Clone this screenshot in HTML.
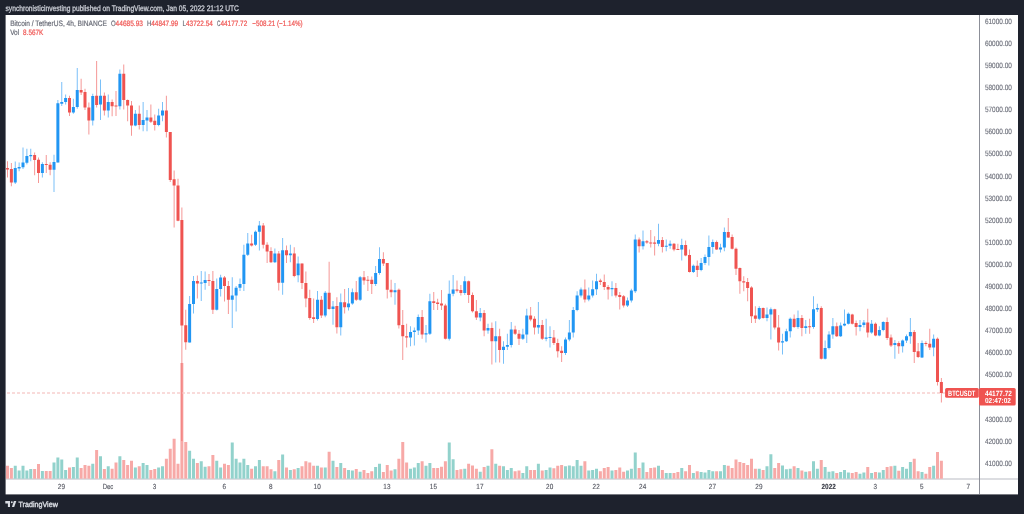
<!DOCTYPE html><html><head><meta charset="utf-8"><style>html,body{margin:0;padding:0;width:1024px;height:514px;overflow:hidden;background:#1e222d;}svg{position:absolute;left:0;top:0;display:block;will-change:transform}text{font-family:"Liberation Sans",sans-serif;text-rendering:geometricPrecision}</style></head><body><svg width="1024" height="514" viewBox="0 0 1024 514"><rect x="0" y="0" width="1024" height="514" fill="#1e222d"/><rect x="5.6" y="15" width="1012.4" height="479.4" fill="#ffffff"/><rect x="6" y="478.5" width="973" height="1" fill="#b9bcc3"/><rect x="979" y="478.5" width="39" height="1" fill="#b9bcc3"/><rect x="6.000" y="465.75" width="3" height="12.95" fill="#f7a9a7"/><rect x="9.875" y="468.00" width="3" height="10.70" fill="#f7a9a7"/><rect x="13.750" y="465.75" width="3" height="12.95" fill="#92d2cc"/><rect x="17.625" y="470.50" width="3" height="8.20" fill="#92d2cc"/><rect x="21.500" y="465.75" width="3" height="12.95" fill="#92d2cc"/><rect x="25.375" y="470.50" width="3" height="8.20" fill="#92d2cc"/><rect x="29.250" y="469.00" width="3" height="9.70" fill="#92d2cc"/><rect x="33.125" y="469.00" width="3" height="9.70" fill="#f7a9a7"/><rect x="37.000" y="464.00" width="3" height="14.70" fill="#f7a9a7"/><rect x="40.875" y="471.00" width="3" height="7.70" fill="#92d2cc"/><rect x="44.750" y="471.00" width="3" height="7.70" fill="#f7a9a7"/><rect x="48.625" y="471.00" width="3" height="7.70" fill="#f7a9a7"/><rect x="52.500" y="462.50" width="3" height="16.20" fill="#92d2cc"/><rect x="56.375" y="457.50" width="3" height="21.20" fill="#92d2cc"/><rect x="60.250" y="459.50" width="3" height="19.20" fill="#92d2cc"/><rect x="64.125" y="470.00" width="3" height="8.70" fill="#92d2cc"/><rect x="68.000" y="467.50" width="3" height="11.20" fill="#f7a9a7"/><rect x="71.875" y="467.00" width="3" height="11.70" fill="#92d2cc"/><rect x="75.750" y="457.50" width="3" height="21.20" fill="#92d2cc"/><rect x="79.625" y="468.00" width="3" height="10.70" fill="#f7a9a7"/><rect x="83.500" y="465.00" width="3" height="13.70" fill="#f7a9a7"/><rect x="87.375" y="465.75" width="3" height="12.95" fill="#f7a9a7"/><rect x="91.250" y="463.75" width="3" height="14.95" fill="#92d2cc"/><rect x="95.125" y="450.00" width="3" height="28.70" fill="#f7a9a7"/><rect x="99.000" y="456.25" width="3" height="22.45" fill="#92d2cc"/><rect x="102.875" y="469.00" width="3" height="9.70" fill="#f7a9a7"/><rect x="106.750" y="466.25" width="3" height="12.45" fill="#92d2cc"/><rect x="110.625" y="468.75" width="3" height="9.95" fill="#f7a9a7"/><rect x="114.500" y="462.50" width="3" height="16.20" fill="#f7a9a7"/><rect x="118.375" y="456.25" width="3" height="22.45" fill="#92d2cc"/><rect x="122.250" y="460.00" width="3" height="18.70" fill="#f7a9a7"/><rect x="126.125" y="465.00" width="3" height="13.70" fill="#f7a9a7"/><rect x="130.000" y="460.75" width="3" height="17.95" fill="#f7a9a7"/><rect x="133.875" y="467.50" width="3" height="11.20" fill="#92d2cc"/><rect x="137.750" y="466.25" width="3" height="12.45" fill="#f7a9a7"/><rect x="141.625" y="463.00" width="3" height="15.70" fill="#92d2cc"/><rect x="145.500" y="465.00" width="3" height="13.70" fill="#92d2cc"/><rect x="149.375" y="470.00" width="3" height="8.70" fill="#f7a9a7"/><rect x="153.250" y="469.00" width="3" height="9.70" fill="#f7a9a7"/><rect x="157.125" y="467.50" width="3" height="11.20" fill="#92d2cc"/><rect x="161.000" y="466.25" width="3" height="12.45" fill="#92d2cc"/><rect x="164.875" y="458.75" width="3" height="19.95" fill="#f7a9a7"/><rect x="168.750" y="448.75" width="3" height="29.95" fill="#f7a9a7"/><rect x="172.625" y="438.75" width="3" height="39.95" fill="#f7a9a7"/><rect x="176.500" y="463.75" width="3" height="14.95" fill="#f7a9a7"/><rect x="180.375" y="363.00" width="3" height="115.70" fill="#f7a9a7"/><rect x="184.250" y="442.00" width="3" height="36.70" fill="#f7a9a7"/><rect x="188.125" y="450.75" width="3" height="27.95" fill="#92d2cc"/><rect x="192.000" y="458.75" width="3" height="19.95" fill="#92d2cc"/><rect x="195.875" y="463.00" width="3" height="15.70" fill="#f7a9a7"/><rect x="199.750" y="461.25" width="3" height="17.45" fill="#92d2cc"/><rect x="203.625" y="466.75" width="3" height="11.95" fill="#92d2cc"/><rect x="207.500" y="466.25" width="3" height="12.45" fill="#f7a9a7"/><rect x="211.375" y="455.00" width="3" height="23.70" fill="#f7a9a7"/><rect x="215.250" y="460.75" width="3" height="17.95" fill="#92d2cc"/><rect x="219.125" y="467.50" width="3" height="11.20" fill="#92d2cc"/><rect x="223.000" y="463.75" width="3" height="14.95" fill="#f7a9a7"/><rect x="226.875" y="465.00" width="3" height="13.70" fill="#f7a9a7"/><rect x="230.750" y="442.50" width="3" height="36.20" fill="#92d2cc"/><rect x="234.625" y="458.75" width="3" height="19.95" fill="#92d2cc"/><rect x="238.500" y="462.50" width="3" height="16.20" fill="#92d2cc"/><rect x="242.375" y="458.75" width="3" height="19.95" fill="#92d2cc"/><rect x="246.250" y="465.00" width="3" height="13.70" fill="#92d2cc"/><rect x="250.125" y="468.75" width="3" height="9.95" fill="#f7a9a7"/><rect x="254.000" y="466.25" width="3" height="12.45" fill="#92d2cc"/><rect x="257.875" y="460.00" width="3" height="18.70" fill="#92d2cc"/><rect x="261.750" y="466.25" width="3" height="12.45" fill="#f7a9a7"/><rect x="265.625" y="466.25" width="3" height="12.45" fill="#f7a9a7"/><rect x="269.500" y="469.25" width="3" height="9.45" fill="#f7a9a7"/><rect x="273.375" y="471.25" width="3" height="7.45" fill="#92d2cc"/><rect x="277.250" y="460.00" width="3" height="18.70" fill="#f7a9a7"/><rect x="281.125" y="454.50" width="3" height="24.20" fill="#92d2cc"/><rect x="285.000" y="467.50" width="3" height="11.20" fill="#f7a9a7"/><rect x="288.875" y="470.00" width="3" height="8.70" fill="#92d2cc"/><rect x="292.750" y="469.25" width="3" height="9.45" fill="#f7a9a7"/><rect x="296.625" y="468.00" width="3" height="10.70" fill="#92d2cc"/><rect x="300.500" y="466.25" width="3" height="12.45" fill="#f7a9a7"/><rect x="304.375" y="461.25" width="3" height="17.45" fill="#f7a9a7"/><rect x="308.250" y="462.50" width="3" height="16.20" fill="#f7a9a7"/><rect x="312.125" y="465.75" width="3" height="12.95" fill="#f7a9a7"/><rect x="316.000" y="465.75" width="3" height="12.95" fill="#92d2cc"/><rect x="319.875" y="467.50" width="3" height="11.20" fill="#f7a9a7"/><rect x="323.750" y="467.50" width="3" height="11.20" fill="#92d2cc"/><rect x="327.625" y="451.75" width="3" height="26.95" fill="#f7a9a7"/><rect x="331.500" y="460.75" width="3" height="17.95" fill="#92d2cc"/><rect x="335.375" y="467.00" width="3" height="11.70" fill="#f7a9a7"/><rect x="339.250" y="463.00" width="3" height="15.70" fill="#92d2cc"/><rect x="343.125" y="468.00" width="3" height="10.70" fill="#f7a9a7"/><rect x="347.000" y="470.00" width="3" height="8.70" fill="#92d2cc"/><rect x="350.875" y="470.50" width="3" height="8.20" fill="#92d2cc"/><rect x="354.750" y="469.00" width="3" height="9.70" fill="#f7a9a7"/><rect x="358.625" y="471.75" width="3" height="6.95" fill="#92d2cc"/><rect x="362.500" y="470.00" width="3" height="8.70" fill="#f7a9a7"/><rect x="366.375" y="473.00" width="3" height="5.70" fill="#f7a9a7"/><rect x="370.250" y="471.25" width="3" height="7.45" fill="#f7a9a7"/><rect x="374.125" y="467.00" width="3" height="11.70" fill="#92d2cc"/><rect x="378.000" y="463.75" width="3" height="14.95" fill="#92d2cc"/><rect x="381.875" y="472.00" width="3" height="6.70" fill="#f7a9a7"/><rect x="385.750" y="465.00" width="3" height="13.70" fill="#f7a9a7"/><rect x="389.625" y="470.50" width="3" height="8.20" fill="#f7a9a7"/><rect x="393.500" y="469.25" width="3" height="9.45" fill="#92d2cc"/><rect x="397.375" y="458.75" width="3" height="19.95" fill="#f7a9a7"/><rect x="401.250" y="442.00" width="3" height="36.70" fill="#f7a9a7"/><rect x="405.125" y="462.50" width="3" height="16.20" fill="#f7a9a7"/><rect x="409.000" y="468.75" width="3" height="9.95" fill="#92d2cc"/><rect x="412.875" y="467.50" width="3" height="11.20" fill="#92d2cc"/><rect x="416.750" y="463.00" width="3" height="15.70" fill="#92d2cc"/><rect x="420.625" y="461.25" width="3" height="17.45" fill="#f7a9a7"/><rect x="424.500" y="465.75" width="3" height="12.95" fill="#92d2cc"/><rect x="428.375" y="463.00" width="3" height="15.70" fill="#92d2cc"/><rect x="432.250" y="468.00" width="3" height="10.70" fill="#f7a9a7"/><rect x="436.125" y="468.00" width="3" height="10.70" fill="#f7a9a7"/><rect x="440.000" y="466.75" width="3" height="11.95" fill="#f7a9a7"/><rect x="443.875" y="461.25" width="3" height="17.45" fill="#f7a9a7"/><rect x="447.750" y="442.50" width="3" height="36.20" fill="#92d2cc"/><rect x="451.625" y="459.25" width="3" height="19.45" fill="#92d2cc"/><rect x="455.500" y="470.00" width="3" height="8.70" fill="#f7a9a7"/><rect x="459.375" y="469.25" width="3" height="9.45" fill="#f7a9a7"/><rect x="463.250" y="468.75" width="3" height="9.95" fill="#92d2cc"/><rect x="467.125" y="463.75" width="3" height="14.95" fill="#f7a9a7"/><rect x="471.000" y="465.50" width="3" height="13.20" fill="#f7a9a7"/><rect x="474.875" y="468.75" width="3" height="9.95" fill="#f7a9a7"/><rect x="478.750" y="471.75" width="3" height="6.95" fill="#92d2cc"/><rect x="482.625" y="467.00" width="3" height="11.70" fill="#f7a9a7"/><rect x="486.500" y="465.75" width="3" height="12.95" fill="#92d2cc"/><rect x="490.375" y="449.25" width="3" height="29.45" fill="#f7a9a7"/><rect x="494.250" y="463.75" width="3" height="14.95" fill="#92d2cc"/><rect x="498.125" y="465.75" width="3" height="12.95" fill="#f7a9a7"/><rect x="502.000" y="466.25" width="3" height="12.45" fill="#92d2cc"/><rect x="505.875" y="470.00" width="3" height="8.70" fill="#92d2cc"/><rect x="509.750" y="468.00" width="3" height="10.70" fill="#92d2cc"/><rect x="513.625" y="471.25" width="3" height="7.45" fill="#f7a9a7"/><rect x="517.500" y="470.50" width="3" height="8.20" fill="#f7a9a7"/><rect x="521.375" y="473.00" width="3" height="5.70" fill="#92d2cc"/><rect x="525.250" y="466.25" width="3" height="12.45" fill="#92d2cc"/><rect x="529.125" y="470.00" width="3" height="8.70" fill="#f7a9a7"/><rect x="533.000" y="470.00" width="3" height="8.70" fill="#f7a9a7"/><rect x="536.875" y="463.75" width="3" height="14.95" fill="#92d2cc"/><rect x="540.750" y="470.50" width="3" height="8.20" fill="#f7a9a7"/><rect x="544.625" y="470.00" width="3" height="8.70" fill="#92d2cc"/><rect x="548.500" y="467.50" width="3" height="11.20" fill="#92d2cc"/><rect x="552.375" y="468.25" width="3" height="10.45" fill="#f7a9a7"/><rect x="556.250" y="465.75" width="3" height="12.95" fill="#f7a9a7"/><rect x="560.125" y="465.00" width="3" height="13.70" fill="#f7a9a7"/><rect x="564.000" y="466.25" width="3" height="12.45" fill="#92d2cc"/><rect x="567.875" y="465.50" width="3" height="13.20" fill="#92d2cc"/><rect x="571.750" y="466.25" width="3" height="12.45" fill="#92d2cc"/><rect x="575.625" y="460.00" width="3" height="18.70" fill="#92d2cc"/><rect x="579.500" y="465.75" width="3" height="12.95" fill="#92d2cc"/><rect x="583.375" y="461.25" width="3" height="17.45" fill="#f7a9a7"/><rect x="587.250" y="470.50" width="3" height="8.20" fill="#92d2cc"/><rect x="591.125" y="470.00" width="3" height="8.70" fill="#92d2cc"/><rect x="595.000" y="468.75" width="3" height="9.95" fill="#92d2cc"/><rect x="598.875" y="471.25" width="3" height="7.45" fill="#f7a9a7"/><rect x="602.750" y="468.00" width="3" height="10.70" fill="#f7a9a7"/><rect x="606.625" y="467.00" width="3" height="11.70" fill="#f7a9a7"/><rect x="610.500" y="470.50" width="3" height="8.20" fill="#92d2cc"/><rect x="614.375" y="470.00" width="3" height="8.70" fill="#f7a9a7"/><rect x="618.250" y="467.50" width="3" height="11.20" fill="#f7a9a7"/><rect x="622.125" y="471.75" width="3" height="6.95" fill="#f7a9a7"/><rect x="626.000" y="470.50" width="3" height="8.20" fill="#92d2cc"/><rect x="629.875" y="468.75" width="3" height="9.95" fill="#92d2cc"/><rect x="633.750" y="452.50" width="3" height="26.20" fill="#92d2cc"/><rect x="637.625" y="468.00" width="3" height="10.70" fill="#f7a9a7"/><rect x="641.500" y="462.50" width="3" height="16.20" fill="#92d2cc"/><rect x="645.375" y="472.00" width="3" height="6.70" fill="#f7a9a7"/><rect x="649.250" y="468.00" width="3" height="10.70" fill="#f7a9a7"/><rect x="653.125" y="467.50" width="3" height="11.20" fill="#f7a9a7"/><rect x="657.000" y="465.75" width="3" height="12.95" fill="#92d2cc"/><rect x="660.875" y="470.00" width="3" height="8.70" fill="#f7a9a7"/><rect x="664.750" y="473.00" width="3" height="5.70" fill="#92d2cc"/><rect x="668.625" y="473.00" width="3" height="5.70" fill="#92d2cc"/><rect x="672.500" y="473.00" width="3" height="5.70" fill="#f7a9a7"/><rect x="676.375" y="472.00" width="3" height="6.70" fill="#f7a9a7"/><rect x="680.250" y="468.00" width="3" height="10.70" fill="#92d2cc"/><rect x="684.125" y="471.25" width="3" height="7.45" fill="#f7a9a7"/><rect x="688.000" y="465.00" width="3" height="13.70" fill="#f7a9a7"/><rect x="691.875" y="473.00" width="3" height="5.70" fill="#92d2cc"/><rect x="695.750" y="471.25" width="3" height="7.45" fill="#f7a9a7"/><rect x="699.625" y="472.00" width="3" height="6.70" fill="#92d2cc"/><rect x="703.500" y="472.50" width="3" height="6.20" fill="#92d2cc"/><rect x="707.375" y="470.00" width="3" height="8.70" fill="#92d2cc"/><rect x="711.250" y="471.25" width="3" height="7.45" fill="#92d2cc"/><rect x="715.125" y="471.25" width="3" height="7.45" fill="#f7a9a7"/><rect x="719.000" y="471.25" width="3" height="7.45" fill="#92d2cc"/><rect x="722.875" y="465.00" width="3" height="13.70" fill="#92d2cc"/><rect x="726.750" y="465.75" width="3" height="12.95" fill="#f7a9a7"/><rect x="730.625" y="468.00" width="3" height="10.70" fill="#f7a9a7"/><rect x="734.500" y="459.50" width="3" height="19.20" fill="#f7a9a7"/><rect x="738.375" y="462.00" width="3" height="16.70" fill="#f7a9a7"/><rect x="742.250" y="463.00" width="3" height="15.70" fill="#f7a9a7"/><rect x="746.125" y="465.00" width="3" height="13.70" fill="#f7a9a7"/><rect x="750.000" y="458.75" width="3" height="19.95" fill="#f7a9a7"/><rect x="753.875" y="468.75" width="3" height="9.95" fill="#f7a9a7"/><rect x="757.750" y="468.75" width="3" height="9.95" fill="#92d2cc"/><rect x="761.625" y="470.00" width="3" height="8.70" fill="#f7a9a7"/><rect x="765.500" y="466.25" width="3" height="12.45" fill="#92d2cc"/><rect x="769.375" y="454.25" width="3" height="24.45" fill="#92d2cc"/><rect x="773.250" y="468.00" width="3" height="10.70" fill="#f7a9a7"/><rect x="777.125" y="463.00" width="3" height="15.70" fill="#f7a9a7"/><rect x="781.000" y="465.50" width="3" height="13.20" fill="#92d2cc"/><rect x="784.875" y="469.25" width="3" height="9.45" fill="#92d2cc"/><rect x="788.750" y="468.75" width="3" height="9.95" fill="#92d2cc"/><rect x="792.625" y="466.25" width="3" height="12.45" fill="#f7a9a7"/><rect x="796.500" y="468.00" width="3" height="10.70" fill="#92d2cc"/><rect x="800.375" y="470.50" width="3" height="8.20" fill="#f7a9a7"/><rect x="804.250" y="471.75" width="3" height="6.95" fill="#92d2cc"/><rect x="808.125" y="471.25" width="3" height="7.45" fill="#f7a9a7"/><rect x="812.000" y="461.25" width="3" height="17.45" fill="#92d2cc"/><rect x="815.875" y="468.75" width="3" height="9.95" fill="#92d2cc"/><rect x="819.750" y="460.00" width="3" height="18.70" fill="#f7a9a7"/><rect x="823.625" y="467.00" width="3" height="11.70" fill="#92d2cc"/><rect x="827.500" y="471.75" width="3" height="6.95" fill="#92d2cc"/><rect x="831.375" y="471.25" width="3" height="7.45" fill="#92d2cc"/><rect x="835.250" y="473.00" width="3" height="5.70" fill="#f7a9a7"/><rect x="839.125" y="472.00" width="3" height="6.70" fill="#92d2cc"/><rect x="843.000" y="470.00" width="3" height="8.70" fill="#92d2cc"/><rect x="846.875" y="472.50" width="3" height="6.20" fill="#92d2cc"/><rect x="850.750" y="473.00" width="3" height="5.70" fill="#f7a9a7"/><rect x="854.625" y="472.00" width="3" height="6.70" fill="#f7a9a7"/><rect x="858.500" y="473.75" width="3" height="4.95" fill="#92d2cc"/><rect x="862.375" y="472.50" width="3" height="6.20" fill="#92d2cc"/><rect x="866.250" y="467.00" width="3" height="11.70" fill="#f7a9a7"/><rect x="870.125" y="473.00" width="3" height="5.70" fill="#92d2cc"/><rect x="874.000" y="472.00" width="3" height="6.70" fill="#f7a9a7"/><rect x="877.875" y="472.50" width="3" height="6.20" fill="#92d2cc"/><rect x="881.750" y="470.00" width="3" height="8.70" fill="#92d2cc"/><rect x="885.625" y="467.00" width="3" height="11.70" fill="#f7a9a7"/><rect x="889.500" y="466.25" width="3" height="12.45" fill="#f7a9a7"/><rect x="893.375" y="465.75" width="3" height="12.95" fill="#92d2cc"/><rect x="897.250" y="470.75" width="3" height="7.95" fill="#f7a9a7"/><rect x="901.125" y="467.00" width="3" height="11.70" fill="#92d2cc"/><rect x="905.000" y="468.75" width="3" height="9.95" fill="#92d2cc"/><rect x="908.875" y="462.00" width="3" height="16.70" fill="#92d2cc"/><rect x="912.750" y="458.75" width="3" height="19.95" fill="#f7a9a7"/><rect x="916.625" y="471.25" width="3" height="7.45" fill="#f7a9a7"/><rect x="920.500" y="472.00" width="3" height="6.70" fill="#92d2cc"/><rect x="924.375" y="473.75" width="3" height="4.95" fill="#f7a9a7"/><rect x="928.250" y="467.00" width="3" height="11.70" fill="#f7a9a7"/><rect x="932.125" y="465.75" width="3" height="12.95" fill="#92d2cc"/><rect x="936.000" y="452.00" width="3" height="26.70" fill="#f7a9a7"/><rect x="939.875" y="460.75" width="3" height="17.95" fill="#f7a9a7"/><line x1="7" y1="393" x2="945" y2="393" stroke="#f8cfce" stroke-width="1.3" stroke-dasharray="3 2"/><rect x="7.000" y="161.25" width="1" height="16.25" fill="#ef5350" fill-opacity="0.6"/><rect x="6.000" y="168.10" width="3" height="1.40" fill="#ef5350"/><rect x="10.875" y="163.00" width="1" height="23.25" fill="#ef5350" fill-opacity="0.6"/><rect x="9.875" y="169.00" width="3" height="13.50" fill="#ef5350"/><rect x="14.750" y="161.50" width="1" height="22.50" fill="#2196f3" fill-opacity="0.6"/><rect x="13.750" y="168.00" width="3" height="14.50" fill="#2196f3"/><rect x="18.625" y="162.50" width="1" height="8.75" fill="#2196f3" fill-opacity="0.6"/><rect x="17.625" y="167.00" width="3" height="1.50" fill="#2196f3"/><rect x="22.500" y="147.50" width="1" height="21.50" fill="#2196f3" fill-opacity="0.6"/><rect x="21.500" y="162.50" width="3" height="4.75" fill="#2196f3"/><rect x="26.375" y="148.75" width="1" height="15.65" fill="#2196f3" fill-opacity="0.6"/><rect x="25.375" y="156.00" width="3" height="6.75" fill="#2196f3"/><rect x="30.250" y="148.75" width="1" height="12.50" fill="#2196f3" fill-opacity="0.6"/><rect x="29.250" y="155.00" width="3" height="1.25" fill="#2196f3"/><rect x="34.125" y="152.50" width="1" height="22.75" fill="#ef5350" fill-opacity="0.6"/><rect x="33.125" y="155.00" width="3" height="5.00" fill="#ef5350"/><rect x="38.000" y="157.50" width="1" height="25.50" fill="#ef5350" fill-opacity="0.6"/><rect x="37.000" y="159.75" width="3" height="13.25" fill="#ef5350"/><rect x="41.875" y="162.25" width="1" height="15.25" fill="#2196f3" fill-opacity="0.6"/><rect x="40.875" y="164.00" width="3" height="9.00" fill="#2196f3"/><rect x="45.750" y="155.00" width="1" height="18.00" fill="#ef5350" fill-opacity="0.6"/><rect x="44.750" y="164.00" width="3" height="1.00" fill="#ef5350"/><rect x="49.625" y="162.25" width="1" height="13.00" fill="#ef5350" fill-opacity="0.6"/><rect x="48.625" y="164.75" width="3" height="5.00" fill="#ef5350"/><rect x="53.500" y="154.75" width="1" height="37.25" fill="#2196f3" fill-opacity="0.6"/><rect x="52.500" y="162.00" width="3" height="7.75" fill="#2196f3"/><rect x="57.375" y="100.00" width="1" height="62.50" fill="#2196f3" fill-opacity="0.6"/><rect x="56.375" y="103.25" width="3" height="59.25" fill="#2196f3"/><rect x="61.250" y="82.00" width="1" height="24.00" fill="#2196f3" fill-opacity="0.6"/><rect x="60.250" y="102.00" width="3" height="1.75" fill="#2196f3"/><rect x="65.125" y="94.50" width="1" height="10.00" fill="#2196f3" fill-opacity="0.6"/><rect x="64.125" y="98.00" width="3" height="4.00" fill="#2196f3"/><rect x="69.000" y="95.75" width="1" height="20.25" fill="#ef5350" fill-opacity="0.6"/><rect x="68.000" y="98.00" width="3" height="14.50" fill="#ef5350"/><rect x="72.875" y="98.75" width="1" height="15.00" fill="#2196f3" fill-opacity="0.6"/><rect x="71.875" y="107.00" width="3" height="5.50" fill="#2196f3"/><rect x="76.750" y="68.00" width="1" height="40.75" fill="#2196f3" fill-opacity="0.6"/><rect x="75.750" y="90.00" width="3" height="17.00" fill="#2196f3"/><rect x="80.625" y="78.75" width="1" height="16.25" fill="#ef5350" fill-opacity="0.6"/><rect x="79.625" y="90.00" width="3" height="2.50" fill="#ef5350"/><rect x="84.500" y="88.75" width="1" height="21.25" fill="#ef5350" fill-opacity="0.6"/><rect x="83.500" y="92.00" width="3" height="15.50" fill="#ef5350"/><rect x="88.375" y="102.50" width="1" height="32.00" fill="#ef5350" fill-opacity="0.6"/><rect x="87.375" y="107.50" width="3" height="13.00" fill="#ef5350"/><rect x="92.250" y="93.75" width="1" height="31.75" fill="#2196f3" fill-opacity="0.6"/><rect x="91.250" y="96.00" width="3" height="24.50" fill="#2196f3"/><rect x="96.125" y="61.00" width="1" height="46.50" fill="#ef5350" fill-opacity="0.6"/><rect x="95.125" y="95.75" width="3" height="9.25" fill="#ef5350"/><rect x="100.000" y="79.50" width="1" height="40.50" fill="#2196f3" fill-opacity="0.6"/><rect x="99.000" y="95.75" width="3" height="8.75" fill="#2196f3"/><rect x="103.875" y="92.50" width="1" height="23.00" fill="#ef5350" fill-opacity="0.6"/><rect x="102.875" y="95.75" width="3" height="14.75" fill="#ef5350"/><rect x="107.750" y="94.50" width="1" height="23.00" fill="#2196f3" fill-opacity="0.6"/><rect x="106.750" y="102.00" width="3" height="8.50" fill="#2196f3"/><rect x="111.625" y="99.50" width="1" height="16.75" fill="#ef5350" fill-opacity="0.6"/><rect x="110.625" y="102.00" width="3" height="4.25" fill="#ef5350"/><rect x="115.500" y="91.00" width="1" height="25.00" fill="#ef5350" fill-opacity="0.6"/><rect x="114.500" y="105.50" width="3" height="1.00" fill="#ef5350"/><rect x="119.375" y="69.50" width="1" height="40.00" fill="#2196f3" fill-opacity="0.6"/><rect x="118.375" y="73.75" width="3" height="32.50" fill="#2196f3"/><rect x="123.250" y="64.50" width="1" height="45.00" fill="#ef5350" fill-opacity="0.6"/><rect x="122.250" y="73.75" width="3" height="26.25" fill="#ef5350"/><rect x="127.125" y="99.50" width="1" height="21.75" fill="#ef5350" fill-opacity="0.6"/><rect x="126.125" y="100.00" width="3" height="5.50" fill="#ef5350"/><rect x="131.000" y="101.00" width="1" height="34.75" fill="#ef5350" fill-opacity="0.6"/><rect x="130.000" y="105.50" width="3" height="20.00" fill="#ef5350"/><rect x="134.875" y="110.00" width="1" height="16.25" fill="#2196f3" fill-opacity="0.6"/><rect x="133.875" y="113.75" width="3" height="11.75" fill="#2196f3"/><rect x="138.750" y="105.50" width="1" height="24.00" fill="#ef5350" fill-opacity="0.6"/><rect x="137.750" y="113.75" width="3" height="11.25" fill="#ef5350"/><rect x="142.625" y="102.00" width="1" height="29.25" fill="#2196f3" fill-opacity="0.6"/><rect x="141.625" y="120.00" width="3" height="5.00" fill="#2196f3"/><rect x="146.500" y="110.00" width="1" height="21.25" fill="#2196f3" fill-opacity="0.6"/><rect x="145.500" y="117.50" width="3" height="3.00" fill="#2196f3"/><rect x="150.375" y="104.50" width="1" height="18.50" fill="#ef5350" fill-opacity="0.6"/><rect x="149.375" y="117.50" width="3" height="4.25" fill="#ef5350"/><rect x="154.250" y="114.50" width="1" height="16.00" fill="#ef5350" fill-opacity="0.6"/><rect x="153.250" y="120.75" width="3" height="4.25" fill="#ef5350"/><rect x="158.125" y="108.75" width="1" height="17.50" fill="#2196f3" fill-opacity="0.6"/><rect x="157.125" y="115.50" width="3" height="9.50" fill="#2196f3"/><rect x="162.000" y="102.00" width="1" height="19.25" fill="#2196f3" fill-opacity="0.6"/><rect x="161.000" y="110.50" width="3" height="5.00" fill="#2196f3"/><rect x="165.875" y="95.75" width="1" height="41.75" fill="#ef5350" fill-opacity="0.6"/><rect x="164.875" y="110.50" width="3" height="21.50" fill="#ef5350"/><rect x="169.750" y="132.00" width="1" height="50.00" fill="#ef5350" fill-opacity="0.6"/><rect x="168.750" y="132.00" width="3" height="48.00" fill="#ef5350"/><rect x="173.625" y="170.50" width="1" height="57.00" fill="#ef5350" fill-opacity="0.6"/><rect x="172.625" y="179.25" width="3" height="6.25" fill="#ef5350"/><rect x="177.500" y="178.75" width="1" height="42.50" fill="#ef5350" fill-opacity="0.6"/><rect x="176.500" y="185.50" width="3" height="35.25" fill="#ef5350"/><rect x="181.375" y="207.50" width="1" height="233.50" fill="#ef5350" fill-opacity="0.6"/><rect x="180.375" y="220.00" width="3" height="105.50" fill="#ef5350"/><rect x="185.250" y="309.75" width="1" height="40.00" fill="#ef5350" fill-opacity="0.6"/><rect x="184.250" y="325.25" width="3" height="17.00" fill="#ef5350"/><rect x="189.125" y="296.00" width="1" height="46.50" fill="#2196f3" fill-opacity="0.6"/><rect x="188.125" y="304.00" width="3" height="38.50" fill="#2196f3"/><rect x="193.000" y="276.00" width="1" height="37.50" fill="#2196f3" fill-opacity="0.6"/><rect x="192.000" y="281.00" width="3" height="23.00" fill="#2196f3"/><rect x="196.875" y="275.50" width="1" height="23.00" fill="#ef5350" fill-opacity="0.6"/><rect x="195.875" y="281.00" width="3" height="2.50" fill="#ef5350"/><rect x="200.750" y="271.00" width="1" height="30.00" fill="#2196f3" fill-opacity="0.6"/><rect x="199.750" y="282.50" width="3" height="1.00" fill="#2196f3"/><rect x="204.625" y="271.50" width="1" height="18.25" fill="#2196f3" fill-opacity="0.6"/><rect x="203.625" y="280.00" width="3" height="3.00" fill="#2196f3"/><rect x="208.500" y="274.00" width="1" height="12.00" fill="#ef5350" fill-opacity="0.6"/><rect x="207.500" y="280.00" width="3" height="1.00" fill="#ef5350"/><rect x="212.375" y="271.00" width="1" height="43.00" fill="#ef5350" fill-opacity="0.6"/><rect x="211.375" y="281.00" width="3" height="28.75" fill="#ef5350"/><rect x="216.250" y="278.50" width="1" height="32.00" fill="#2196f3" fill-opacity="0.6"/><rect x="215.250" y="289.00" width="3" height="20.75" fill="#2196f3"/><rect x="220.125" y="274.75" width="1" height="21.75" fill="#2196f3" fill-opacity="0.6"/><rect x="219.125" y="277.50" width="3" height="11.50" fill="#2196f3"/><rect x="224.000" y="276.00" width="1" height="25.50" fill="#ef5350" fill-opacity="0.6"/><rect x="223.000" y="277.50" width="3" height="8.50" fill="#ef5350"/><rect x="227.875" y="281.00" width="1" height="33.00" fill="#ef5350" fill-opacity="0.6"/><rect x="226.875" y="286.00" width="3" height="13.75" fill="#ef5350"/><rect x="231.750" y="277.25" width="1" height="50.75" fill="#2196f3" fill-opacity="0.6"/><rect x="230.750" y="295.50" width="3" height="4.25" fill="#2196f3"/><rect x="235.625" y="286.00" width="1" height="25.50" fill="#2196f3" fill-opacity="0.6"/><rect x="234.625" y="287.75" width="3" height="7.75" fill="#2196f3"/><rect x="239.500" y="278.50" width="1" height="12.50" fill="#2196f3" fill-opacity="0.6"/><rect x="238.500" y="284.00" width="3" height="3.75" fill="#2196f3"/><rect x="243.375" y="244.75" width="1" height="46.25" fill="#2196f3" fill-opacity="0.6"/><rect x="242.375" y="254.75" width="3" height="29.25" fill="#2196f3"/><rect x="247.250" y="233.00" width="1" height="23.00" fill="#2196f3" fill-opacity="0.6"/><rect x="246.250" y="243.50" width="3" height="11.25" fill="#2196f3"/><rect x="251.125" y="234.75" width="1" height="11.75" fill="#ef5350" fill-opacity="0.6"/><rect x="250.125" y="243.50" width="3" height="2.00" fill="#ef5350"/><rect x="255.000" y="230.50" width="1" height="15.50" fill="#2196f3" fill-opacity="0.6"/><rect x="254.000" y="231.75" width="3" height="13.00" fill="#2196f3"/><rect x="258.875" y="221.00" width="1" height="29.50" fill="#2196f3" fill-opacity="0.6"/><rect x="257.875" y="225.50" width="3" height="6.25" fill="#2196f3"/><rect x="262.750" y="223.00" width="1" height="25.50" fill="#ef5350" fill-opacity="0.6"/><rect x="261.750" y="225.50" width="3" height="19.25" fill="#ef5350"/><rect x="266.625" y="242.25" width="1" height="20.75" fill="#ef5350" fill-opacity="0.6"/><rect x="265.625" y="244.75" width="3" height="6.75" fill="#ef5350"/><rect x="270.500" y="247.25" width="1" height="15.75" fill="#ef5350" fill-opacity="0.6"/><rect x="269.500" y="251.00" width="3" height="11.25" fill="#ef5350"/><rect x="274.375" y="248.50" width="1" height="14.50" fill="#2196f3" fill-opacity="0.6"/><rect x="273.375" y="253.50" width="3" height="8.75" fill="#2196f3"/><rect x="278.250" y="251.00" width="1" height="39.50" fill="#ef5350" fill-opacity="0.6"/><rect x="277.250" y="253.50" width="3" height="29.25" fill="#ef5350"/><rect x="282.125" y="238.00" width="1" height="56.75" fill="#2196f3" fill-opacity="0.6"/><rect x="281.125" y="250.25" width="3" height="32.50" fill="#2196f3"/><rect x="286.000" y="245.50" width="1" height="17.50" fill="#ef5350" fill-opacity="0.6"/><rect x="285.000" y="250.25" width="3" height="5.00" fill="#ef5350"/><rect x="289.875" y="244.75" width="1" height="17.50" fill="#2196f3" fill-opacity="0.6"/><rect x="288.875" y="253.50" width="3" height="1.75" fill="#2196f3"/><rect x="293.750" y="247.25" width="1" height="30.00" fill="#ef5350" fill-opacity="0.6"/><rect x="292.750" y="253.50" width="3" height="22.50" fill="#ef5350"/><rect x="297.625" y="256.50" width="1" height="25.75" fill="#2196f3" fill-opacity="0.6"/><rect x="296.625" y="263.50" width="3" height="11.75" fill="#2196f3"/><rect x="301.500" y="263.50" width="1" height="25.50" fill="#ef5350" fill-opacity="0.6"/><rect x="300.500" y="263.50" width="3" height="19.50" fill="#ef5350"/><rect x="305.375" y="271.50" width="1" height="35.75" fill="#ef5350" fill-opacity="0.6"/><rect x="304.375" y="283.00" width="3" height="15.50" fill="#ef5350"/><rect x="309.250" y="289.75" width="1" height="30.00" fill="#ef5350" fill-opacity="0.6"/><rect x="308.250" y="298.00" width="3" height="20.00" fill="#ef5350"/><rect x="313.125" y="298.50" width="1" height="24.50" fill="#ef5350" fill-opacity="0.6"/><rect x="312.125" y="317.25" width="3" height="1.75" fill="#ef5350"/><rect x="317.000" y="291.00" width="1" height="29.50" fill="#2196f3" fill-opacity="0.6"/><rect x="316.000" y="299.75" width="3" height="19.25" fill="#2196f3"/><rect x="320.875" y="296.00" width="1" height="22.00" fill="#ef5350" fill-opacity="0.6"/><rect x="319.875" y="299.75" width="3" height="15.75" fill="#ef5350"/><rect x="324.750" y="291.00" width="1" height="26.25" fill="#2196f3" fill-opacity="0.6"/><rect x="323.750" y="292.75" width="3" height="22.75" fill="#2196f3"/><rect x="328.625" y="261.75" width="1" height="48.00" fill="#ef5350" fill-opacity="0.6"/><rect x="327.625" y="292.75" width="3" height="16.25" fill="#ef5350"/><rect x="332.500" y="301.00" width="1" height="23.75" fill="#2196f3" fill-opacity="0.6"/><rect x="331.500" y="306.50" width="3" height="2.50" fill="#2196f3"/><rect x="336.375" y="297.25" width="1" height="36.25" fill="#ef5350" fill-opacity="0.6"/><rect x="335.375" y="306.00" width="3" height="21.25" fill="#ef5350"/><rect x="340.250" y="293.50" width="1" height="42.00" fill="#2196f3" fill-opacity="0.6"/><rect x="339.250" y="302.25" width="3" height="25.00" fill="#2196f3"/><rect x="344.125" y="289.00" width="1" height="24.50" fill="#ef5350" fill-opacity="0.6"/><rect x="343.125" y="302.25" width="3" height="5.00" fill="#ef5350"/><rect x="348.000" y="288.00" width="1" height="22.50" fill="#2196f3" fill-opacity="0.6"/><rect x="347.000" y="303.50" width="3" height="3.75" fill="#2196f3"/><rect x="351.875" y="288.50" width="1" height="16.25" fill="#2196f3" fill-opacity="0.6"/><rect x="350.875" y="292.25" width="3" height="11.25" fill="#2196f3"/><rect x="355.750" y="281.00" width="1" height="20.00" fill="#ef5350" fill-opacity="0.6"/><rect x="354.750" y="292.25" width="3" height="7.50" fill="#ef5350"/><rect x="359.625" y="276.00" width="1" height="25.00" fill="#2196f3" fill-opacity="0.6"/><rect x="358.625" y="277.25" width="3" height="22.50" fill="#2196f3"/><rect x="363.500" y="271.00" width="1" height="13.75" fill="#ef5350" fill-opacity="0.6"/><rect x="362.500" y="277.25" width="3" height="3.25" fill="#ef5350"/><rect x="367.375" y="276.00" width="1" height="15.00" fill="#ef5350" fill-opacity="0.6"/><rect x="366.375" y="279.75" width="3" height="1.00" fill="#ef5350"/><rect x="371.250" y="276.50" width="1" height="17.50" fill="#ef5350" fill-opacity="0.6"/><rect x="370.250" y="279.75" width="3" height="4.25" fill="#ef5350"/><rect x="375.125" y="266.00" width="1" height="20.00" fill="#2196f3" fill-opacity="0.6"/><rect x="374.125" y="273.00" width="3" height="11.00" fill="#2196f3"/><rect x="379.000" y="247.25" width="1" height="27.50" fill="#2196f3" fill-opacity="0.6"/><rect x="378.000" y="259.00" width="3" height="14.00" fill="#2196f3"/><rect x="382.875" y="252.25" width="1" height="13.75" fill="#ef5350" fill-opacity="0.6"/><rect x="381.875" y="259.00" width="3" height="4.50" fill="#ef5350"/><rect x="386.750" y="263.00" width="1" height="35.50" fill="#ef5350" fill-opacity="0.6"/><rect x="385.750" y="263.00" width="3" height="26.75" fill="#ef5350"/><rect x="390.625" y="279.75" width="1" height="17.50" fill="#ef5350" fill-opacity="0.6"/><rect x="389.625" y="289.75" width="3" height="2.50" fill="#ef5350"/><rect x="394.500" y="283.00" width="1" height="21.75" fill="#2196f3" fill-opacity="0.6"/><rect x="393.500" y="290.25" width="3" height="2.00" fill="#2196f3"/><rect x="398.375" y="288.50" width="1" height="40.00" fill="#ef5350" fill-opacity="0.6"/><rect x="397.375" y="289.75" width="3" height="35.50" fill="#ef5350"/><rect x="402.250" y="310.00" width="1" height="50.00" fill="#ef5350" fill-opacity="0.6"/><rect x="401.250" y="325.00" width="3" height="11.25" fill="#ef5350"/><rect x="406.125" y="323.75" width="1" height="23.75" fill="#ef5350" fill-opacity="0.6"/><rect x="405.125" y="336.25" width="3" height="1.25" fill="#ef5350"/><rect x="410.000" y="326.25" width="1" height="20.00" fill="#2196f3" fill-opacity="0.6"/><rect x="409.000" y="332.00" width="3" height="5.50" fill="#2196f3"/><rect x="413.875" y="327.50" width="1" height="18.00" fill="#2196f3" fill-opacity="0.6"/><rect x="412.875" y="330.50" width="3" height="1.50" fill="#2196f3"/><rect x="417.750" y="314.50" width="1" height="20.50" fill="#2196f3" fill-opacity="0.6"/><rect x="416.750" y="317.00" width="3" height="13.50" fill="#2196f3"/><rect x="421.625" y="310.00" width="1" height="28.75" fill="#ef5350" fill-opacity="0.6"/><rect x="420.625" y="317.00" width="3" height="17.50" fill="#ef5350"/><rect x="425.500" y="325.00" width="1" height="17.50" fill="#2196f3" fill-opacity="0.6"/><rect x="424.500" y="333.25" width="3" height="1.25" fill="#2196f3"/><rect x="429.375" y="293.75" width="1" height="41.25" fill="#2196f3" fill-opacity="0.6"/><rect x="428.375" y="301.25" width="3" height="32.50" fill="#2196f3"/><rect x="433.250" y="292.00" width="1" height="18.00" fill="#ef5350" fill-opacity="0.6"/><rect x="432.250" y="301.25" width="3" height="1.75" fill="#ef5350"/><rect x="437.125" y="298.75" width="1" height="11.25" fill="#ef5350" fill-opacity="0.6"/><rect x="436.125" y="302.50" width="3" height="1.50" fill="#ef5350"/><rect x="441.000" y="290.00" width="1" height="20.00" fill="#ef5350" fill-opacity="0.6"/><rect x="440.000" y="303.50" width="3" height="2.00" fill="#ef5350"/><rect x="444.875" y="303.75" width="1" height="35.75" fill="#ef5350" fill-opacity="0.6"/><rect x="443.875" y="305.50" width="3" height="33.25" fill="#ef5350"/><rect x="448.750" y="280.50" width="1" height="60.00" fill="#2196f3" fill-opacity="0.6"/><rect x="447.750" y="293.75" width="3" height="45.00" fill="#2196f3"/><rect x="452.625" y="275.00" width="1" height="21.25" fill="#2196f3" fill-opacity="0.6"/><rect x="451.625" y="289.50" width="3" height="4.25" fill="#2196f3"/><rect x="456.500" y="280.50" width="1" height="12.00" fill="#ef5350" fill-opacity="0.6"/><rect x="455.500" y="289.50" width="3" height="1.25" fill="#ef5350"/><rect x="460.375" y="285.00" width="1" height="10.50" fill="#ef5350" fill-opacity="0.6"/><rect x="459.375" y="290.00" width="3" height="3.00" fill="#ef5350"/><rect x="464.250" y="276.25" width="1" height="18.75" fill="#2196f3" fill-opacity="0.6"/><rect x="463.250" y="281.25" width="3" height="11.75" fill="#2196f3"/><rect x="468.125" y="280.50" width="1" height="22.50" fill="#ef5350" fill-opacity="0.6"/><rect x="467.125" y="281.25" width="3" height="13.75" fill="#ef5350"/><rect x="472.000" y="292.50" width="1" height="20.00" fill="#ef5350" fill-opacity="0.6"/><rect x="471.000" y="295.00" width="3" height="16.25" fill="#ef5350"/><rect x="475.875" y="300.00" width="1" height="20.00" fill="#ef5350" fill-opacity="0.6"/><rect x="474.875" y="311.25" width="3" height="6.25" fill="#ef5350"/><rect x="479.750" y="308.00" width="1" height="13.25" fill="#2196f3" fill-opacity="0.6"/><rect x="478.750" y="313.00" width="3" height="4.50" fill="#2196f3"/><rect x="483.625" y="310.00" width="1" height="26.25" fill="#ef5350" fill-opacity="0.6"/><rect x="482.625" y="313.00" width="3" height="17.50" fill="#ef5350"/><rect x="487.500" y="323.75" width="1" height="10.00" fill="#2196f3" fill-opacity="0.6"/><rect x="486.500" y="328.00" width="3" height="2.50" fill="#2196f3"/><rect x="491.375" y="322.50" width="1" height="42.00" fill="#ef5350" fill-opacity="0.6"/><rect x="490.375" y="328.00" width="3" height="13.25" fill="#ef5350"/><rect x="495.250" y="321.25" width="1" height="41.25" fill="#2196f3" fill-opacity="0.6"/><rect x="494.250" y="336.25" width="3" height="5.00" fill="#2196f3"/><rect x="499.125" y="328.75" width="1" height="33.75" fill="#ef5350" fill-opacity="0.6"/><rect x="498.125" y="336.25" width="3" height="13.75" fill="#ef5350"/><rect x="503.000" y="341.25" width="1" height="22.50" fill="#2196f3" fill-opacity="0.6"/><rect x="502.000" y="346.75" width="3" height="3.25" fill="#2196f3"/><rect x="506.875" y="333.75" width="1" height="16.25" fill="#2196f3" fill-opacity="0.6"/><rect x="505.875" y="345.00" width="3" height="1.75" fill="#2196f3"/><rect x="510.750" y="322.00" width="1" height="25.50" fill="#2196f3" fill-opacity="0.6"/><rect x="509.750" y="329.50" width="3" height="15.50" fill="#2196f3"/><rect x="514.625" y="325.75" width="1" height="9.25" fill="#ef5350" fill-opacity="0.6"/><rect x="513.625" y="329.50" width="3" height="4.25" fill="#ef5350"/><rect x="518.500" y="330.00" width="1" height="15.00" fill="#ef5350" fill-opacity="0.6"/><rect x="517.500" y="333.75" width="3" height="5.00" fill="#ef5350"/><rect x="522.375" y="328.75" width="1" height="11.25" fill="#2196f3" fill-opacity="0.6"/><rect x="521.375" y="334.50" width="3" height="4.25" fill="#2196f3"/><rect x="526.250" y="308.75" width="1" height="34.25" fill="#2196f3" fill-opacity="0.6"/><rect x="525.250" y="315.50" width="3" height="19.00" fill="#2196f3"/><rect x="530.125" y="307.00" width="1" height="14.25" fill="#ef5350" fill-opacity="0.6"/><rect x="529.125" y="315.50" width="3" height="4.00" fill="#ef5350"/><rect x="534.000" y="316.25" width="1" height="18.25" fill="#ef5350" fill-opacity="0.6"/><rect x="533.000" y="318.75" width="3" height="8.75" fill="#ef5350"/><rect x="537.875" y="302.00" width="1" height="31.75" fill="#2196f3" fill-opacity="0.6"/><rect x="536.875" y="325.00" width="3" height="2.50" fill="#2196f3"/><rect x="541.750" y="320.00" width="1" height="20.00" fill="#ef5350" fill-opacity="0.6"/><rect x="540.750" y="325.00" width="3" height="13.75" fill="#ef5350"/><rect x="545.625" y="318.75" width="1" height="22.50" fill="#2196f3" fill-opacity="0.6"/><rect x="544.625" y="337.50" width="3" height="1.25" fill="#2196f3"/><rect x="549.500" y="326.25" width="1" height="21.25" fill="#2196f3" fill-opacity="0.6"/><rect x="548.500" y="337.00" width="3" height="1.00" fill="#2196f3"/><rect x="553.375" y="330.00" width="1" height="15.00" fill="#ef5350" fill-opacity="0.6"/><rect x="552.375" y="337.50" width="3" height="5.50" fill="#ef5350"/><rect x="557.250" y="338.75" width="1" height="18.75" fill="#ef5350" fill-opacity="0.6"/><rect x="556.250" y="343.00" width="3" height="8.25" fill="#ef5350"/><rect x="561.125" y="346.25" width="1" height="15.75" fill="#ef5350" fill-opacity="0.6"/><rect x="560.125" y="350.75" width="3" height="2.25" fill="#ef5350"/><rect x="565.000" y="337.50" width="1" height="17.50" fill="#2196f3" fill-opacity="0.6"/><rect x="564.000" y="339.50" width="3" height="13.50" fill="#2196f3"/><rect x="568.875" y="320.00" width="1" height="21.25" fill="#2196f3" fill-opacity="0.6"/><rect x="567.875" y="332.50" width="3" height="7.00" fill="#2196f3"/><rect x="572.750" y="307.00" width="1" height="30.50" fill="#2196f3" fill-opacity="0.6"/><rect x="571.750" y="310.00" width="3" height="22.50" fill="#2196f3"/><rect x="576.625" y="291.25" width="1" height="20.00" fill="#2196f3" fill-opacity="0.6"/><rect x="575.625" y="295.50" width="3" height="14.50" fill="#2196f3"/><rect x="580.500" y="287.50" width="1" height="10.00" fill="#2196f3" fill-opacity="0.6"/><rect x="579.500" y="289.50" width="3" height="6.00" fill="#2196f3"/><rect x="584.375" y="279.50" width="1" height="23.00" fill="#ef5350" fill-opacity="0.6"/><rect x="583.375" y="289.50" width="3" height="10.00" fill="#ef5350"/><rect x="588.250" y="287.50" width="1" height="13.75" fill="#2196f3" fill-opacity="0.6"/><rect x="587.250" y="295.50" width="3" height="4.00" fill="#2196f3"/><rect x="592.125" y="280.50" width="1" height="17.00" fill="#2196f3" fill-opacity="0.6"/><rect x="591.125" y="289.25" width="3" height="6.25" fill="#2196f3"/><rect x="596.000" y="273.75" width="1" height="21.25" fill="#2196f3" fill-opacity="0.6"/><rect x="595.000" y="281.25" width="3" height="8.00" fill="#2196f3"/><rect x="599.875" y="278.75" width="1" height="6.25" fill="#ef5350" fill-opacity="0.6"/><rect x="598.875" y="280.50" width="3" height="1.50" fill="#ef5350"/><rect x="603.750" y="274.50" width="1" height="15.50" fill="#ef5350" fill-opacity="0.6"/><rect x="602.750" y="282.00" width="3" height="5.00" fill="#ef5350"/><rect x="607.625" y="285.00" width="1" height="14.50" fill="#ef5350" fill-opacity="0.6"/><rect x="606.625" y="287.00" width="3" height="2.50" fill="#ef5350"/><rect x="611.500" y="281.25" width="1" height="15.00" fill="#2196f3" fill-opacity="0.6"/><rect x="610.500" y="288.00" width="3" height="1.25" fill="#2196f3"/><rect x="615.375" y="283.00" width="1" height="14.50" fill="#ef5350" fill-opacity="0.6"/><rect x="614.375" y="288.00" width="3" height="7.50" fill="#ef5350"/><rect x="619.250" y="292.00" width="1" height="17.50" fill="#ef5350" fill-opacity="0.6"/><rect x="618.250" y="295.00" width="3" height="2.00" fill="#ef5350"/><rect x="623.125" y="295.00" width="1" height="12.50" fill="#ef5350" fill-opacity="0.6"/><rect x="622.125" y="296.25" width="3" height="9.25" fill="#ef5350"/><rect x="627.000" y="297.50" width="1" height="9.50" fill="#2196f3" fill-opacity="0.6"/><rect x="626.000" y="300.50" width="3" height="5.00" fill="#2196f3"/><rect x="630.875" y="288.75" width="1" height="13.75" fill="#2196f3" fill-opacity="0.6"/><rect x="629.875" y="290.50" width="3" height="10.00" fill="#2196f3"/><rect x="634.750" y="234.50" width="1" height="58.50" fill="#2196f3" fill-opacity="0.6"/><rect x="633.750" y="239.50" width="3" height="51.75" fill="#2196f3"/><rect x="638.625" y="237.50" width="1" height="15.00" fill="#ef5350" fill-opacity="0.6"/><rect x="637.625" y="239.50" width="3" height="6.75" fill="#ef5350"/><rect x="642.500" y="230.50" width="1" height="19.00" fill="#2196f3" fill-opacity="0.6"/><rect x="641.500" y="241.25" width="3" height="5.00" fill="#2196f3"/><rect x="646.375" y="240.00" width="1" height="3.75" fill="#ef5350" fill-opacity="0.6"/><rect x="645.375" y="241.25" width="3" height="1.25" fill="#ef5350"/><rect x="650.250" y="230.00" width="1" height="17.50" fill="#ef5350" fill-opacity="0.6"/><rect x="649.250" y="242.50" width="3" height="1.00" fill="#ef5350"/><rect x="654.125" y="236.25" width="1" height="19.25" fill="#ef5350" fill-opacity="0.6"/><rect x="653.125" y="242.50" width="3" height="1.25" fill="#ef5350"/><rect x="658.000" y="223.75" width="1" height="22.50" fill="#2196f3" fill-opacity="0.6"/><rect x="657.000" y="240.00" width="3" height="3.75" fill="#2196f3"/><rect x="661.875" y="237.00" width="1" height="15.50" fill="#ef5350" fill-opacity="0.6"/><rect x="660.875" y="240.00" width="3" height="7.00" fill="#ef5350"/><rect x="665.750" y="239.50" width="1" height="11.75" fill="#2196f3" fill-opacity="0.6"/><rect x="664.750" y="245.75" width="3" height="1.00" fill="#2196f3"/><rect x="669.625" y="240.50" width="1" height="8.25" fill="#2196f3" fill-opacity="0.6"/><rect x="668.625" y="243.75" width="3" height="2.00" fill="#2196f3"/><rect x="673.500" y="243.00" width="1" height="8.25" fill="#ef5350" fill-opacity="0.6"/><rect x="672.500" y="243.75" width="3" height="5.75" fill="#ef5350"/><rect x="677.375" y="243.75" width="1" height="6.25" fill="#ef5350" fill-opacity="0.6"/><rect x="676.375" y="249.00" width="3" height="1.00" fill="#ef5350"/><rect x="681.250" y="238.75" width="1" height="21.75" fill="#2196f3" fill-opacity="0.6"/><rect x="680.250" y="245.00" width="3" height="4.50" fill="#2196f3"/><rect x="685.125" y="240.50" width="1" height="15.75" fill="#ef5350" fill-opacity="0.6"/><rect x="684.125" y="245.00" width="3" height="10.50" fill="#ef5350"/><rect x="689.000" y="249.50" width="1" height="23.00" fill="#ef5350" fill-opacity="0.6"/><rect x="688.000" y="255.00" width="3" height="17.00" fill="#ef5350"/><rect x="692.875" y="264.50" width="1" height="8.50" fill="#2196f3" fill-opacity="0.6"/><rect x="691.875" y="265.75" width="3" height="6.25" fill="#2196f3"/><rect x="696.750" y="260.50" width="1" height="16.50" fill="#ef5350" fill-opacity="0.6"/><rect x="695.750" y="265.75" width="3" height="4.25" fill="#ef5350"/><rect x="700.625" y="258.00" width="1" height="13.25" fill="#2196f3" fill-opacity="0.6"/><rect x="699.625" y="263.00" width="3" height="7.00" fill="#2196f3"/><rect x="704.500" y="254.50" width="1" height="10.50" fill="#2196f3" fill-opacity="0.6"/><rect x="703.500" y="257.00" width="3" height="6.00" fill="#2196f3"/><rect x="708.375" y="235.50" width="1" height="30.00" fill="#2196f3" fill-opacity="0.6"/><rect x="707.375" y="247.00" width="3" height="10.00" fill="#2196f3"/><rect x="712.250" y="239.50" width="1" height="14.25" fill="#2196f3" fill-opacity="0.6"/><rect x="711.250" y="242.00" width="3" height="5.00" fill="#2196f3"/><rect x="716.125" y="240.50" width="1" height="9.50" fill="#ef5350" fill-opacity="0.6"/><rect x="715.125" y="242.00" width="3" height="7.50" fill="#ef5350"/><rect x="720.000" y="243.75" width="1" height="8.75" fill="#2196f3" fill-opacity="0.6"/><rect x="719.000" y="247.50" width="3" height="2.00" fill="#2196f3"/><rect x="723.875" y="227.50" width="1" height="23.75" fill="#2196f3" fill-opacity="0.6"/><rect x="722.875" y="232.00" width="3" height="15.50" fill="#2196f3"/><rect x="727.750" y="218.00" width="1" height="20.00" fill="#ef5350" fill-opacity="0.6"/><rect x="726.750" y="232.00" width="3" height="5.50" fill="#ef5350"/><rect x="731.625" y="234.50" width="1" height="15.00" fill="#ef5350" fill-opacity="0.6"/><rect x="730.625" y="237.00" width="3" height="11.75" fill="#ef5350"/><rect x="735.500" y="247.50" width="1" height="27.50" fill="#ef5350" fill-opacity="0.6"/><rect x="734.500" y="248.75" width="3" height="20.00" fill="#ef5350"/><rect x="739.375" y="267.50" width="1" height="26.25" fill="#ef5350" fill-opacity="0.6"/><rect x="738.375" y="268.00" width="3" height="13.25" fill="#ef5350"/><rect x="743.250" y="276.25" width="1" height="15.00" fill="#ef5350" fill-opacity="0.6"/><rect x="742.250" y="281.25" width="3" height="1.25" fill="#ef5350"/><rect x="747.125" y="278.00" width="1" height="23.25" fill="#ef5350" fill-opacity="0.6"/><rect x="746.125" y="282.00" width="3" height="6.00" fill="#ef5350"/><rect x="751.000" y="286.25" width="1" height="36.75" fill="#ef5350" fill-opacity="0.6"/><rect x="750.000" y="287.50" width="3" height="28.75" fill="#ef5350"/><rect x="754.875" y="306.25" width="1" height="16.75" fill="#ef5350" fill-opacity="0.6"/><rect x="753.875" y="315.50" width="3" height="3.25" fill="#ef5350"/><rect x="758.750" y="306.25" width="1" height="13.75" fill="#2196f3" fill-opacity="0.6"/><rect x="757.750" y="308.00" width="3" height="10.75" fill="#2196f3"/><rect x="762.625" y="307.50" width="1" height="11.25" fill="#ef5350" fill-opacity="0.6"/><rect x="761.625" y="308.00" width="3" height="10.00" fill="#ef5350"/><rect x="766.500" y="307.50" width="1" height="13.75" fill="#2196f3" fill-opacity="0.6"/><rect x="765.500" y="314.50" width="3" height="3.50" fill="#2196f3"/><rect x="770.375" y="307.50" width="1" height="32.00" fill="#2196f3" fill-opacity="0.6"/><rect x="769.375" y="309.25" width="3" height="5.25" fill="#2196f3"/><rect x="774.250" y="308.75" width="1" height="20.75" fill="#ef5350" fill-opacity="0.6"/><rect x="773.250" y="309.25" width="3" height="18.25" fill="#ef5350"/><rect x="778.125" y="315.00" width="1" height="35.50" fill="#ef5350" fill-opacity="0.6"/><rect x="777.125" y="327.50" width="3" height="15.00" fill="#ef5350"/><rect x="782.000" y="333.75" width="1" height="20.75" fill="#2196f3" fill-opacity="0.6"/><rect x="781.000" y="341.25" width="3" height="1.25" fill="#2196f3"/><rect x="785.875" y="328.75" width="1" height="13.25" fill="#2196f3" fill-opacity="0.6"/><rect x="784.875" y="331.25" width="3" height="10.00" fill="#2196f3"/><rect x="789.750" y="317.50" width="1" height="20.00" fill="#2196f3" fill-opacity="0.6"/><rect x="788.750" y="318.75" width="3" height="12.50" fill="#2196f3"/><rect x="793.625" y="314.50" width="1" height="13.50" fill="#ef5350" fill-opacity="0.6"/><rect x="792.625" y="318.75" width="3" height="8.25" fill="#ef5350"/><rect x="797.500" y="310.50" width="1" height="18.25" fill="#2196f3" fill-opacity="0.6"/><rect x="796.500" y="318.00" width="3" height="9.00" fill="#2196f3"/><rect x="801.375" y="315.00" width="1" height="21.25" fill="#ef5350" fill-opacity="0.6"/><rect x="800.375" y="318.00" width="3" height="10.00" fill="#ef5350"/><rect x="805.250" y="320.00" width="1" height="13.75" fill="#2196f3" fill-opacity="0.6"/><rect x="804.250" y="326.25" width="3" height="1.75" fill="#2196f3"/><rect x="809.125" y="318.75" width="1" height="15.00" fill="#ef5350" fill-opacity="0.6"/><rect x="808.125" y="326.25" width="3" height="1.00" fill="#ef5350"/><rect x="813.000" y="296.25" width="1" height="32.50" fill="#2196f3" fill-opacity="0.6"/><rect x="812.000" y="309.25" width="3" height="17.75" fill="#2196f3"/><rect x="816.875" y="303.75" width="1" height="8.25" fill="#2196f3" fill-opacity="0.6"/><rect x="815.875" y="308.00" width="3" height="1.50" fill="#2196f3"/><rect x="820.750" y="306.25" width="1" height="53.25" fill="#ef5350" fill-opacity="0.6"/><rect x="819.750" y="308.00" width="3" height="50.75" fill="#ef5350"/><rect x="824.625" y="340.50" width="1" height="19.00" fill="#2196f3" fill-opacity="0.6"/><rect x="823.625" y="348.00" width="3" height="10.75" fill="#2196f3"/><rect x="828.500" y="331.25" width="1" height="18.25" fill="#2196f3" fill-opacity="0.6"/><rect x="827.500" y="334.50" width="3" height="13.50" fill="#2196f3"/><rect x="832.375" y="318.00" width="1" height="20.75" fill="#2196f3" fill-opacity="0.6"/><rect x="831.375" y="326.25" width="3" height="8.25" fill="#2196f3"/><rect x="836.250" y="322.50" width="1" height="14.50" fill="#ef5350" fill-opacity="0.6"/><rect x="835.250" y="326.25" width="3" height="10.00" fill="#ef5350"/><rect x="840.125" y="322.50" width="1" height="14.50" fill="#2196f3" fill-opacity="0.6"/><rect x="839.125" y="325.50" width="3" height="10.75" fill="#2196f3"/><rect x="844.000" y="309.50" width="1" height="16.75" fill="#2196f3" fill-opacity="0.6"/><rect x="843.000" y="323.75" width="3" height="1.75" fill="#2196f3"/><rect x="847.875" y="312.50" width="1" height="12.00" fill="#2196f3" fill-opacity="0.6"/><rect x="846.875" y="313.75" width="3" height="10.00" fill="#2196f3"/><rect x="851.750" y="313.75" width="1" height="10.75" fill="#ef5350" fill-opacity="0.6"/><rect x="850.750" y="314.50" width="3" height="9.25" fill="#ef5350"/><rect x="855.625" y="320.50" width="1" height="15.00" fill="#ef5350" fill-opacity="0.6"/><rect x="854.625" y="323.00" width="3" height="4.00" fill="#ef5350"/><rect x="859.500" y="320.00" width="1" height="11.25" fill="#2196f3" fill-opacity="0.6"/><rect x="858.500" y="325.00" width="3" height="2.00" fill="#2196f3"/><rect x="863.375" y="320.00" width="1" height="7.50" fill="#2196f3" fill-opacity="0.6"/><rect x="862.375" y="322.50" width="3" height="2.50" fill="#2196f3"/><rect x="867.250" y="308.75" width="1" height="28.75" fill="#ef5350" fill-opacity="0.6"/><rect x="866.250" y="322.50" width="3" height="10.00" fill="#ef5350"/><rect x="871.125" y="320.00" width="1" height="13.75" fill="#2196f3" fill-opacity="0.6"/><rect x="870.125" y="323.75" width="3" height="8.75" fill="#2196f3"/><rect x="875.000" y="322.50" width="1" height="13.75" fill="#ef5350" fill-opacity="0.6"/><rect x="874.000" y="323.75" width="3" height="11.75" fill="#ef5350"/><rect x="878.875" y="326.25" width="1" height="10.00" fill="#2196f3" fill-opacity="0.6"/><rect x="877.875" y="330.00" width="3" height="5.50" fill="#2196f3"/><rect x="882.750" y="321.25" width="1" height="10.00" fill="#2196f3" fill-opacity="0.6"/><rect x="881.750" y="322.00" width="3" height="8.00" fill="#2196f3"/><rect x="886.625" y="317.50" width="1" height="22.50" fill="#ef5350" fill-opacity="0.6"/><rect x="885.625" y="322.00" width="3" height="16.00" fill="#ef5350"/><rect x="890.500" y="334.50" width="1" height="12.50" fill="#ef5350" fill-opacity="0.6"/><rect x="889.500" y="337.50" width="3" height="8.00" fill="#ef5350"/><rect x="894.375" y="340.00" width="1" height="18.75" fill="#2196f3" fill-opacity="0.6"/><rect x="893.375" y="343.00" width="3" height="2.00" fill="#2196f3"/><rect x="898.250" y="341.25" width="1" height="12.50" fill="#ef5350" fill-opacity="0.6"/><rect x="897.250" y="343.00" width="3" height="3.25" fill="#ef5350"/><rect x="902.125" y="339.50" width="1" height="13.00" fill="#2196f3" fill-opacity="0.6"/><rect x="901.125" y="340.50" width="3" height="5.75" fill="#2196f3"/><rect x="906.000" y="334.50" width="1" height="8.50" fill="#2196f3" fill-opacity="0.6"/><rect x="905.000" y="336.25" width="3" height="4.25" fill="#2196f3"/><rect x="909.875" y="318.00" width="1" height="25.75" fill="#2196f3" fill-opacity="0.6"/><rect x="908.875" y="332.00" width="3" height="4.25" fill="#2196f3"/><rect x="913.750" y="330.00" width="1" height="33.00" fill="#ef5350" fill-opacity="0.6"/><rect x="912.750" y="332.00" width="3" height="20.00" fill="#ef5350"/><rect x="917.625" y="343.00" width="1" height="15.00" fill="#ef5350" fill-opacity="0.6"/><rect x="916.625" y="351.25" width="3" height="5.75" fill="#ef5350"/><rect x="921.500" y="340.50" width="1" height="17.50" fill="#2196f3" fill-opacity="0.6"/><rect x="920.500" y="343.00" width="3" height="14.50" fill="#2196f3"/><rect x="925.375" y="341.25" width="1" height="5.00" fill="#ef5350" fill-opacity="0.6"/><rect x="924.375" y="343.00" width="3" height="1.00" fill="#ef5350"/><rect x="929.250" y="328.75" width="1" height="21.25" fill="#ef5350" fill-opacity="0.6"/><rect x="928.250" y="343.75" width="3" height="3.75" fill="#ef5350"/><rect x="933.125" y="334.50" width="1" height="21.75" fill="#2196f3" fill-opacity="0.6"/><rect x="932.125" y="338.75" width="3" height="8.75" fill="#2196f3"/><rect x="937.000" y="337.50" width="1" height="48.00" fill="#ef5350" fill-opacity="0.6"/><rect x="936.000" y="338.75" width="3" height="43.25" fill="#ef5350"/><rect x="940.875" y="378.00" width="1" height="24.50" fill="#ef5350" fill-opacity="0.6"/><rect x="939.875" y="382.00" width="3" height="11.00" fill="#ef5350"/><rect x="979" y="15" width="1" height="479" fill="#8c8f98"/><g stroke="#c9ccd4" stroke-width="0.3"><text x="5.50" y="10.90" font-size="8.00" fill="#c9ccd4" font-weight="normal" textLength="233.40" lengthAdjust="spacingAndGlyphs">synchronisticinvesting published on TradingView.com, Jan 05, 2022 21:12 UTC</text></g><text x="10.15" y="25.80" font-size="7.80" fill="#6b6e79" font-weight="normal" stroke="#6b6e79" stroke-width="0.20" textLength="96.85" lengthAdjust="spacingAndGlyphs">Bitcoin / TetherUS, 4h, BINANCE</text><text x="110.90" y="25.80" font-size="7.80" fill="#6b6e79" font-weight="normal" stroke="#6b6e79" stroke-width="0.20" textLength="4.70" lengthAdjust="spacingAndGlyphs">O</text><text x="115.60" y="25.80" font-size="7.80" fill="#ef5350" font-weight="normal" stroke="#ef5350" stroke-width="0.20" textLength="27.40" lengthAdjust="spacingAndGlyphs">44685.93</text><text x="146.90" y="25.80" font-size="7.80" fill="#6b6e79" font-weight="normal" stroke="#6b6e79" stroke-width="0.20" textLength="4.40" lengthAdjust="spacingAndGlyphs">H</text><text x="151.30" y="25.80" font-size="7.80" fill="#ef5350" font-weight="normal" stroke="#ef5350" stroke-width="0.20" textLength="26.80" lengthAdjust="spacingAndGlyphs">44847.99</text><text x="182.50" y="25.80" font-size="7.80" fill="#6b6e79" font-weight="normal" stroke="#6b6e79" stroke-width="0.20" textLength="3.50" lengthAdjust="spacingAndGlyphs">L</text><text x="186.00" y="25.80" font-size="7.80" fill="#ef5350" font-weight="normal" stroke="#ef5350" stroke-width="0.20" textLength="26.90" lengthAdjust="spacingAndGlyphs">43722.54</text><text x="217.00" y="25.80" font-size="7.80" fill="#6b6e79" font-weight="normal" stroke="#6b6e79" stroke-width="0.20" textLength="3.40" lengthAdjust="spacingAndGlyphs">C</text><text x="220.40" y="25.80" font-size="7.80" fill="#ef5350" font-weight="normal" stroke="#ef5350" stroke-width="0.20" textLength="26.90" lengthAdjust="spacingAndGlyphs">44177.72</text><text x="252.30" y="25.80" font-size="7.80" fill="#ef5350" font-weight="normal" stroke="#ef5350" stroke-width="0.20" textLength="50.30" lengthAdjust="spacingAndGlyphs">−508.21 (−1.14%)</text><text x="10.15" y="34.80" font-size="7.80" fill="#6b6e79" font-weight="normal" stroke="#6b6e79" stroke-width="0.20" textLength="9.05" lengthAdjust="spacingAndGlyphs">Vol</text><text x="23.10" y="34.80" font-size="7.80" fill="#ef5350" font-weight="normal" stroke="#ef5350" stroke-width="0.20" textLength="20.25" lengthAdjust="spacingAndGlyphs">8.567K</text><text x="984.90" y="23.85" font-size="7.70" fill="#6a6d78" font-weight="normal" stroke="#6a6d78" stroke-width="0.12" textLength="27.00" lengthAdjust="spacingAndGlyphs">61000.00</text><text x="984.90" y="45.95" font-size="7.70" fill="#6a6d78" font-weight="normal" stroke="#6a6d78" stroke-width="0.12" textLength="27.00" lengthAdjust="spacingAndGlyphs">60000.00</text><text x="984.90" y="68.05" font-size="7.70" fill="#6a6d78" font-weight="normal" stroke="#6a6d78" stroke-width="0.12" textLength="27.00" lengthAdjust="spacingAndGlyphs">59000.00</text><text x="984.90" y="90.15" font-size="7.70" fill="#6a6d78" font-weight="normal" stroke="#6a6d78" stroke-width="0.12" textLength="27.00" lengthAdjust="spacingAndGlyphs">58000.00</text><text x="984.90" y="112.25" font-size="7.70" fill="#6a6d78" font-weight="normal" stroke="#6a6d78" stroke-width="0.12" textLength="27.00" lengthAdjust="spacingAndGlyphs">57000.00</text><text x="984.90" y="134.35" font-size="7.70" fill="#6a6d78" font-weight="normal" stroke="#6a6d78" stroke-width="0.12" textLength="27.00" lengthAdjust="spacingAndGlyphs">56000.00</text><text x="984.90" y="156.45" font-size="7.70" fill="#6a6d78" font-weight="normal" stroke="#6a6d78" stroke-width="0.12" textLength="27.00" lengthAdjust="spacingAndGlyphs">55000.00</text><text x="984.90" y="178.55" font-size="7.70" fill="#6a6d78" font-weight="normal" stroke="#6a6d78" stroke-width="0.12" textLength="27.00" lengthAdjust="spacingAndGlyphs">54000.00</text><text x="984.90" y="200.65" font-size="7.70" fill="#6a6d78" font-weight="normal" stroke="#6a6d78" stroke-width="0.12" textLength="27.00" lengthAdjust="spacingAndGlyphs">53000.00</text><text x="984.90" y="222.75" font-size="7.70" fill="#6a6d78" font-weight="normal" stroke="#6a6d78" stroke-width="0.12" textLength="27.00" lengthAdjust="spacingAndGlyphs">52000.00</text><text x="984.90" y="244.85" font-size="7.70" fill="#6a6d78" font-weight="normal" stroke="#6a6d78" stroke-width="0.12" textLength="27.00" lengthAdjust="spacingAndGlyphs">51000.00</text><text x="984.90" y="266.95" font-size="7.70" fill="#6a6d78" font-weight="normal" stroke="#6a6d78" stroke-width="0.12" textLength="27.00" lengthAdjust="spacingAndGlyphs">50000.00</text><text x="984.90" y="289.05" font-size="7.70" fill="#6a6d78" font-weight="normal" stroke="#6a6d78" stroke-width="0.12" textLength="27.00" lengthAdjust="spacingAndGlyphs">49000.00</text><text x="984.90" y="311.15" font-size="7.70" fill="#6a6d78" font-weight="normal" stroke="#6a6d78" stroke-width="0.12" textLength="27.00" lengthAdjust="spacingAndGlyphs">48000.00</text><text x="984.90" y="333.25" font-size="7.70" fill="#6a6d78" font-weight="normal" stroke="#6a6d78" stroke-width="0.12" textLength="27.00" lengthAdjust="spacingAndGlyphs">47000.00</text><text x="984.90" y="355.35" font-size="7.70" fill="#6a6d78" font-weight="normal" stroke="#6a6d78" stroke-width="0.12" textLength="27.00" lengthAdjust="spacingAndGlyphs">46000.00</text><text x="984.90" y="377.45" font-size="7.70" fill="#6a6d78" font-weight="normal" stroke="#6a6d78" stroke-width="0.12" textLength="27.00" lengthAdjust="spacingAndGlyphs">45000.00</text><text x="984.90" y="421.65" font-size="7.70" fill="#6a6d78" font-weight="normal" stroke="#6a6d78" stroke-width="0.12" textLength="27.00" lengthAdjust="spacingAndGlyphs">43000.00</text><text x="984.90" y="443.75" font-size="7.70" fill="#6a6d78" font-weight="normal" stroke="#6a6d78" stroke-width="0.12" textLength="27.00" lengthAdjust="spacingAndGlyphs">42000.00</text><text x="984.90" y="465.85" font-size="7.70" fill="#6a6d78" font-weight="normal" stroke="#6a6d78" stroke-width="0.12" textLength="27.00" lengthAdjust="spacingAndGlyphs">41000.00</text><text x="61.40" y="488.9" font-size="7.4" fill="#565963" stroke="#565963" stroke-width="0.15" font-weight="normal" text-anchor="middle" textLength="7.10" lengthAdjust="spacingAndGlyphs">29</text><text x="108.00" y="488.9" font-size="7.4" fill="#565963" stroke="#565963" stroke-width="0.15" font-weight="normal" text-anchor="middle" textLength="10.60" lengthAdjust="spacingAndGlyphs">Dec</text><text x="154.40" y="488.9" font-size="7.4" fill="#565963" stroke="#565963" stroke-width="0.15" font-weight="normal" text-anchor="middle" textLength="3.55" lengthAdjust="spacingAndGlyphs">3</text><text x="224.15" y="488.9" font-size="7.4" fill="#565963" stroke="#565963" stroke-width="0.15" font-weight="normal" text-anchor="middle" textLength="3.55" lengthAdjust="spacingAndGlyphs">6</text><text x="270.65" y="488.9" font-size="7.4" fill="#565963" stroke="#565963" stroke-width="0.15" font-weight="normal" text-anchor="middle" textLength="3.55" lengthAdjust="spacingAndGlyphs">8</text><text x="317.15" y="488.9" font-size="7.4" fill="#565963" stroke="#565963" stroke-width="0.15" font-weight="normal" text-anchor="middle" textLength="7.10" lengthAdjust="spacingAndGlyphs">10</text><text x="386.90" y="488.9" font-size="7.4" fill="#565963" stroke="#565963" stroke-width="0.15" font-weight="normal" text-anchor="middle" textLength="7.10" lengthAdjust="spacingAndGlyphs">13</text><text x="433.40" y="488.9" font-size="7.4" fill="#565963" stroke="#565963" stroke-width="0.15" font-weight="normal" text-anchor="middle" textLength="7.10" lengthAdjust="spacingAndGlyphs">15</text><text x="479.90" y="488.9" font-size="7.4" fill="#565963" stroke="#565963" stroke-width="0.15" font-weight="normal" text-anchor="middle" textLength="7.10" lengthAdjust="spacingAndGlyphs">17</text><text x="549.65" y="488.9" font-size="7.4" fill="#565963" stroke="#565963" stroke-width="0.15" font-weight="normal" text-anchor="middle" textLength="7.10" lengthAdjust="spacingAndGlyphs">20</text><text x="596.15" y="488.9" font-size="7.4" fill="#565963" stroke="#565963" stroke-width="0.15" font-weight="normal" text-anchor="middle" textLength="7.10" lengthAdjust="spacingAndGlyphs">22</text><text x="642.65" y="488.9" font-size="7.4" fill="#565963" stroke="#565963" stroke-width="0.15" font-weight="normal" text-anchor="middle" textLength="7.10" lengthAdjust="spacingAndGlyphs">24</text><text x="712.40" y="488.9" font-size="7.4" fill="#565963" stroke="#565963" stroke-width="0.15" font-weight="normal" text-anchor="middle" textLength="7.10" lengthAdjust="spacingAndGlyphs">27</text><text x="758.90" y="488.9" font-size="7.4" fill="#565963" stroke="#565963" stroke-width="0.15" font-weight="normal" text-anchor="middle" textLength="7.10" lengthAdjust="spacingAndGlyphs">29</text><text x="828.65" y="488.9" font-size="7.4" fill="#3f424c" stroke="#3f424c" stroke-width="0.15" font-weight="bold" text-anchor="middle" textLength="14.20" lengthAdjust="spacingAndGlyphs">2022</text><text x="875.15" y="488.9" font-size="7.4" fill="#565963" stroke="#565963" stroke-width="0.15" font-weight="normal" text-anchor="middle" textLength="3.55" lengthAdjust="spacingAndGlyphs">3</text><text x="921.65" y="488.9" font-size="7.4" fill="#565963" stroke="#565963" stroke-width="0.15" font-weight="normal" text-anchor="middle" textLength="3.55" lengthAdjust="spacingAndGlyphs">5</text><text x="968.15" y="488.9" font-size="7.4" fill="#565963" stroke="#565963" stroke-width="0.15" font-weight="normal" text-anchor="middle" textLength="3.55" lengthAdjust="spacingAndGlyphs">7</text><rect x="945.1" y="388.1" width="33.7" height="9.6" rx="1.5" fill="#ef5350"/><text x="948.00" y="395.70" font-size="7.80" fill="#ffffff" font-weight="bold" textLength="27.30" lengthAdjust="spacingAndGlyphs">BTCUSDT</text><rect x="979" y="388.1" width="36.7" height="17.5" rx="1.5" fill="#ef5350"/><text x="984.90" y="395.70" font-size="7.60" fill="#ffffff" font-weight="bold" textLength="27.10" lengthAdjust="spacingAndGlyphs">44177.72</text><text x="984.90" y="402.90" font-size="7.30" fill="#ffffff" font-weight="bold" textLength="26.10" lengthAdjust="spacingAndGlyphs">02:47:02</text><g fill="#d8dbe2"><path d="M5.3 501 H10 V507 H7.9 V503.4 H5.3 Z"/><circle cx="11.8" cy="502.3" r="0.95"/><path d="M13.9 501 H16.3 L14.2 507 H11.9 Z"/></g><text x="18.50" y="507.20" font-size="7.80" fill="#d8dbe2" font-weight="normal" stroke="#d8dbe2" stroke-width="0.40" textLength="39.30" lengthAdjust="spacingAndGlyphs">TradingView</text></svg></body></html>
